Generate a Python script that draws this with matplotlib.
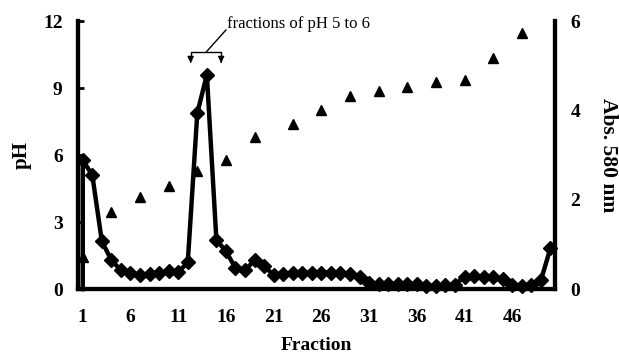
import matplotlib
matplotlib.use('Agg')
import matplotlib.pyplot as plt

plt.rcParams['font.family'] = 'Liberation Serif'

# Absorption bei 580 nm (Rauten, rechte Achse)
abs_fraction = [1, 1, 2, 3, 4, 5, 6, 7, 8, 9, 10, 11, 12, 13, 14, 15, 16, 17, 18, 19, 20,
                21, 22, 23, 24, 25, 26, 27, 28, 29, 30, 31, 32, 33, 34, 35, 36, 37, 38, 39, 40,
                41, 42, 43, 44, 45, 46, 47, 48, 49, 50]
abs_580 = [0.0, 2.89, 2.55, 1.07, 0.65, 0.42, 0.36, 0.31, 0.33, 0.36, 0.40, 0.38, 0.60, 3.94, 4.80,
           1.10, 0.85, 0.47, 0.42, 0.65, 0.52, 0.31, 0.33, 0.37, 0.36, 0.37, 0.36, 0.37, 0.36, 0.35,
           0.27, 0.13, 0.12, 0.12, 0.12, 0.12, 0.11, 0.08, 0.07, 0.09, 0.10, 0.28, 0.30, 0.28, 0.27,
           0.22, 0.10, 0.08, 0.09, 0.20, 0.92]

# pH (Dreiecke, linke Achse)
ph_fraction = [1, 4, 7, 10, 13, 16, 19, 23, 26, 29, 32, 35, 38, 41, 44, 47]
ph_wert = [1.43, 3.45, 4.12, 4.6, 5.3, 5.8, 6.8, 7.39, 8.0, 8.64, 8.87, 9.05, 9.27, 9.36, 10.34, 11.46]

x_ticks = [1, 6, 11, 16, 21, 26, 31, 36, 41, 46]

fig = plt.figure(figsize=(6.19, 3.57), dpi=100)
ax = fig.add_axes([0.126, 0.19, 0.771, 0.751])
ax2 = ax.twinx()

ax.plot(ph_fraction, ph_wert, linestyle='none', marker='^', color='black', markersize=7.5, clip_on=False)
ax2.plot(abs_fraction, abs_580, color='black', linewidth=3.2, marker='D', markersize=7,
         markevery=list(range(1, len(abs_fraction))), clip_on=False)

ax.set_xlim(0.5, 50.5)
ax.set_ylim(0, 12)
ax2.set_ylim(0, 6)
ax.set_yticks([0, 3, 6, 9, 12])
ax2.set_yticks([0, 2, 4, 6])
ax.set_xticks(x_ticks)

for a in (ax, ax2):
    a.spines['top'].set_visible(False)
    for s in ('left', 'right', 'bottom'):
        a.spines[s].set_linewidth(3)
    a.tick_params(labelsize=14)
    for lab in a.get_xticklabels() + a.get_yticklabels():
        lab.set_fontweight('bold')

ax.tick_params(axis='y', direction='in', length=4, width=2, pad=11)
ax.tick_params(axis='x', length=0, pad=14)
ax2.tick_params(axis='y', length=0, pad=11)

ax.set_xlabel('Fraction', fontsize=14, fontweight='bold', labelpad=8)
ax.set_ylabel('pH', fontsize=15, fontweight='bold', labelpad=8)
ax2.set_ylabel('Abs. 580 nm', fontsize=15.5, fontweight='bold', rotation=-90, labelpad=27)

# Klammer mit Pfeilen für die Fraktionen pH 5 bis 6
ax.plot([12.3, 12.3, 15.5, 15.5], [10.25, 10.6, 10.6, 10.25], color='black', linewidth=1, clip_on=False)
ax.annotate('', xy=(12.3, 10.0), xytext=(12.3, 10.3),
            arrowprops=dict(arrowstyle='-|>', color='black', lw=1, mutation_scale=9))
ax.annotate('', xy=(15.5, 10.0), xytext=(15.5, 10.3),
            arrowprops=dict(arrowstyle='-|>', color='black', lw=1, mutation_scale=9))
ax.plot([13.9, 16.0], [10.6, 11.6], color='black', linewidth=1, clip_on=False)
ax.text(16.1, 11.85, 'fractions of pH 5 to 6', fontsize=12, ha='left', va='center')

fig.savefig('out.png', dpi=100)
